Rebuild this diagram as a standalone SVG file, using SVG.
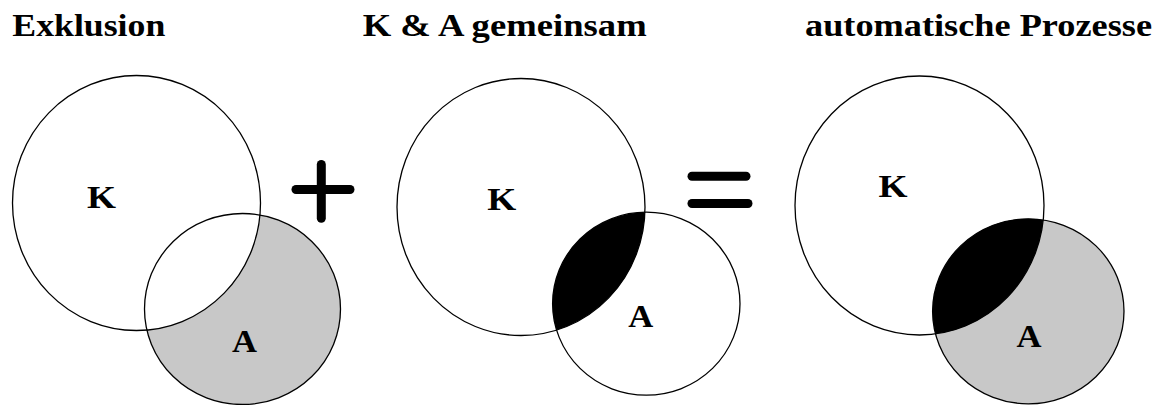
<svg xmlns="http://www.w3.org/2000/svg" width="1162" height="405" viewBox="0 0 1162 405">
  <style>
    .title { font-family: "Liberation Serif", "Times New Roman", serif; font-weight: bold; font-size: 31px; fill: #000; }
    .lbl { font-family: "Liberation Serif", "Times New Roman", serif; font-weight: bold; font-size: 32px; fill: #000; text-anchor: middle; }
    .ring { fill: none; stroke: #000; stroke-width: 1.3; }
    .gray { fill: #c8c8c8; }
    .white { fill: #fff; }
    .op { stroke: #000; stroke-width: 9; stroke-linecap: round; fill: none; }
  </style>
  <defs>
    <clipPath id="clipK2"><ellipse cx="521" cy="207" rx="124" ry="128.5"/></clipPath>
    <clipPath id="clipK3"><ellipse cx="919.5" cy="205.5" rx="124.5" ry="129.5"/></clipPath>
  </defs>
  <rect width="1162" height="405" fill="#fff"/>

  <g id="titles">
    <text class="title" x="12.3" y="36" textLength="153" lengthAdjust="spacingAndGlyphs">Exklusion</text>
    <text class="title" x="362.7" y="36" textLength="284" lengthAdjust="spacingAndGlyphs">K &amp; A gemeinsam</text>
    <text class="title" x="805" y="36" textLength="347" lengthAdjust="spacingAndGlyphs">automatische Prozesse</text>
  </g>

  <g id="panel-exklusion">
    <ellipse class="gray" cx="242.5" cy="309" rx="98" ry="95.5"/>
    <ellipse class="white" cx="136.5" cy="203" rx="124" ry="127.5"/>
    <ellipse class="ring" cx="136.5" cy="203" rx="124" ry="127.5"/>
    <ellipse class="ring" cx="242.5" cy="309" rx="98" ry="95.5"/>
    <text class="lbl" x="101.5" y="208" textLength="29" lengthAdjust="spacingAndGlyphs">K</text>
    <text class="lbl" x="244.5" y="352" textLength="25" lengthAdjust="spacingAndGlyphs">A</text>
  </g>

  <g id="op-plus">
    <line class="op" x1="296" y1="189.5" x2="350" y2="189.5"/>
    <line class="op" x1="321.3" y1="164.5" x2="321.3" y2="218.2"/>
  </g>

  <g id="panel-gemeinsam">
    <ellipse class="white" cx="521" cy="207" rx="124" ry="128.5"/>
    <ellipse fill="#000" clip-path="url(#clipK2)" cx="646.3" cy="303.7" rx="93.7" ry="91.5"/>
    <ellipse class="ring" cx="521" cy="207" rx="124" ry="128.5"/>
    <ellipse class="ring" cx="646.3" cy="303.7" rx="93.7" ry="91.5"/>
    <text class="lbl" x="501.7" y="210" textLength="29" lengthAdjust="spacingAndGlyphs">K</text>
    <text class="lbl" x="640.8" y="326.5" textLength="25" lengthAdjust="spacingAndGlyphs">A</text>
  </g>

  <g id="op-equals">
    <line class="op" x1="692" y1="176.2" x2="746" y2="176.2"/>
    <line class="op" x1="692" y1="203.5" x2="748" y2="203.5"/>
  </g>

  <g id="panel-automatisch">
    <ellipse class="gray" cx="1028.3" cy="311.3" rx="95.7" ry="92.5"/>
    <ellipse fill="#000" clip-path="url(#clipK3)" cx="1028.3" cy="311.3" rx="95.7" ry="92.5"/>
    <ellipse class="ring" cx="919.5" cy="205.5" rx="124.5" ry="129.5"/>
    <ellipse class="ring" cx="1028.3" cy="311.3" rx="95.7" ry="92.5"/>
    <text class="lbl" x="893" y="196.5" textLength="29" lengthAdjust="spacingAndGlyphs">K</text>
    <text class="lbl" x="1029" y="346.5" textLength="25" lengthAdjust="spacingAndGlyphs">A</text>
  </g>

  <g id="connectors"></g>
</svg>
